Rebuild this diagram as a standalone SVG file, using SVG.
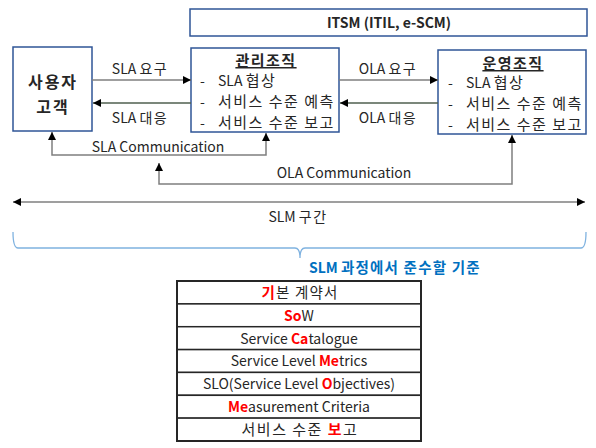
<svg xmlns="http://www.w3.org/2000/svg" width="596" height="448" viewBox="0 0 596 448">
<style>
text{font-family:"Malgun Gothic","Noto Sans CJK KR","Noto Sans",sans-serif;fill:#262626;font-size:14px}
.b{font-weight:bold}
.c{text-anchor:middle}
.k{font-size:15px;letter-spacing:1.5px}
.k1{letter-spacing:1.5px}
.box{fill:#fff;stroke:#2F5597;stroke-width:1.5}
.ln{fill:none;stroke:#7F7F7F;stroke-width:1.5}
.r{fill:#FF0000;font-weight:bold}
.row{fill:#fff;stroke:#262626;stroke-width:1.5}
</style>
<defs>
<marker id="ah" viewBox="0 0 10 10" refX="10" refY="5" markerWidth="8" markerHeight="8" markerUnits="userSpaceOnUse" orient="auto-start-reverse">
<path d="M0,0 L10,5 L0,10 z" fill="#000"/>
</marker>
</defs>
<g id="itsm">
<rect class="box" x="190" y="9" width="397" height="27"/>
<text class="b c" x="389" y="28">ITSM (ITIL, e-SCM)</text>
</g>
<g id="user">
<rect class="box" x="13" y="47" width="79" height="84"/>
<text class="b c" x="53" y="88" style="font-size:16px;letter-spacing:2px">사용자</text>
<text class="b c" x="53" y="113" style="font-size:16px;letter-spacing:2px">고객</text>
</g>
<g id="mgmt">
<rect class="box" x="191" y="48" width="148" height="84"/>
<text class="b c" x="266" y="66" text-decoration="underline" style="font-size:15px;letter-spacing:1.5px">관리조직</text>
<text x="200" y="86">-</text><text x="218" y="86">SLA <tspan class="k">협상</tspan></text>
<text x="200" y="107">-</text><text x="218" y="107" class="k">서비스 수준 예측</text>
<text x="200" y="128">-</text><text x="218" y="128" class="k">서비스 수준 보고</text>
</g>
<g id="ops">
<rect class="box" x="438" y="50" width="148" height="84"/>
<text class="b c" x="513" y="69" text-decoration="underline" style="font-size:15px;letter-spacing:1.5px">운영조직</text>
<text x="448" y="88">-</text><text x="466" y="88">SLA <tspan class="k">협상</tspan></text>
<text x="448" y="109">-</text><text x="466" y="109" class="k">서비스 수준 예측</text>
<text x="448" y="130">-</text><text x="466" y="130" class="k">서비스 수준 보고</text>
</g>
<g id="connectors">
<line class="ln" x1="92" y1="80" x2="191" y2="80" marker-end="url(#ah)"/>
<line class="ln" x1="191" y1="103" x2="93" y2="103" marker-end="url(#ah)" style="stroke:#4f5f4f"/>
<line class="ln" x1="339" y1="80" x2="438" y2="80" marker-end="url(#ah)"/>
<line class="ln" x1="438" y1="103" x2="340" y2="103" marker-end="url(#ah)" style="stroke:#4f5f4f"/>
<polyline class="ln" points="52,132 52,155 266,155 266,133" marker-start="url(#ah)" marker-end="url(#ah)"/>
<polyline class="ln" points="159,163 159,184 512,184 512,135" marker-start="url(#ah)" marker-end="url(#ah)"/>
<line class="ln" x1="13" y1="202" x2="585" y2="202" marker-start="url(#ah)" marker-end="url(#ah)"/>
<path d="M13,232 Q13,248 18,248 L295,248 Q300,248 300,258 Q300,248 305,248 L581,248 Q586,248 586,232" fill="none" stroke="#7FB2E0" stroke-width="1.3"/>
</g>
<g id="labels">
<text class="c" x="140" y="74">SLA <tspan class="k1">요구</tspan></text>
<text class="c" x="140" y="123">SLA <tspan class="k1">대응</tspan></text>
<text class="c" x="388" y="74">OLA <tspan class="k1">요구</tspan></text>
<text class="c" x="388" y="123">OLA <tspan class="k1">대응</tspan></text>
<text class="c" x="158" y="152">SLA Communication</text>
<text class="c" x="344" y="178">OLA Communication</text>
<text class="c" x="298" y="222">SLM <tspan class="k1">구간</tspan></text>
<text x="309" y="273" class="b" style="fill:#0070C0">SLM <tspan style="letter-spacing:1.2px;font-size:14.5px">과정에서 준수할 기준</tspan></text>
</g>
<g id="table">
<rect class="row" x="177" y="281" width="244" height="22.9"/>
<rect class="row" x="177" y="303.9" width="244" height="22.9"/>
<rect class="row" x="177" y="326.7" width="244" height="22.9"/>
<rect class="row" x="177" y="349.6" width="244" height="22.9"/>
<rect class="row" x="177" y="372.4" width="244" height="22.9"/>
<rect class="row" x="177" y="395.3" width="244" height="22.9"/>
<rect class="row" x="177" y="418.1" width="244" height="22.9"/>
<rect x="177" y="281" width="244" height="160" fill="none" stroke="#262626" stroke-width="2"/>
<text class="c" x="300" y="298" style="letter-spacing:1.2px;font-size:14.5px"><tspan class="r">기</tspan>본 계약서</text>
<text class="c" x="299" y="321"><tspan class="r">So</tspan>W</text>
<text class="c" x="299" y="344">Service <tspan class="r">Ca</tspan>talogue</text>
<text class="c" x="299" y="366">Service Level <tspan class="r">Me</tspan>trics</text>
<text class="c" x="299" y="389">SLO(Service Level <tspan class="r">O</tspan>bjectives)</text>
<text class="c" x="299" y="412"><tspan class="r">Me</tspan>asurement Criteria</text>
<text class="c k" x="300" y="435"><tspan>서비스 수준 </tspan><tspan class="r">보</tspan>고</text>
</g>
</svg>
